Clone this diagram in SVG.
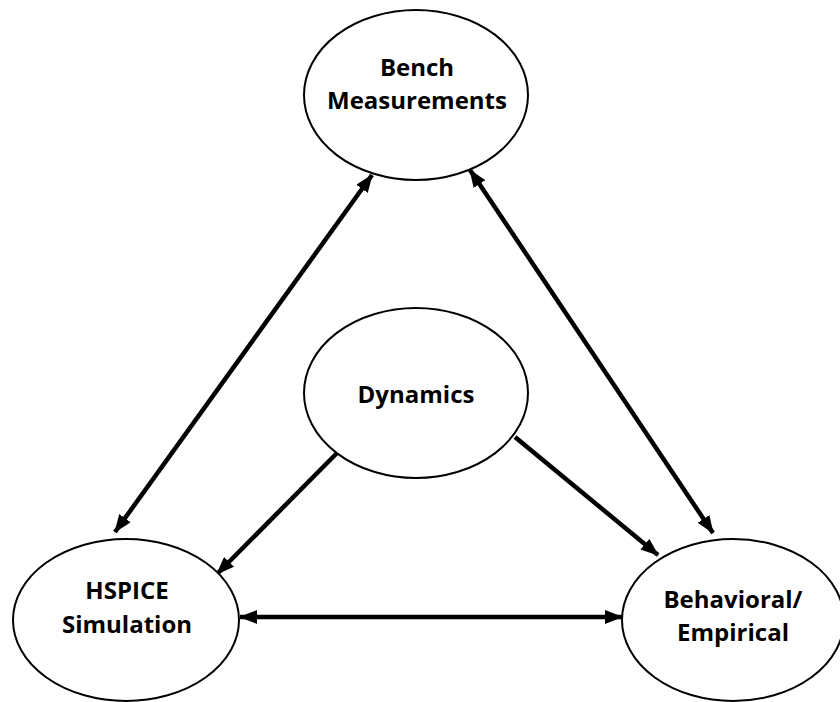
<svg xmlns="http://www.w3.org/2000/svg" width="840" height="702" viewBox="0 0 840 702">
<style>
.node ellipse{fill:#fff;stroke:#000;stroke-width:2}
.node text{font-family:"Open Sans","Liberation Sans",sans-serif;font-weight:bold;font-size:24px;text-anchor:middle;fill:#000}
.conn line{stroke:#000;stroke-width:4.5}
</style>
<defs>
<marker id="ah" markerUnits="userSpaceOnUse" markerWidth="18" markerHeight="14" refX="17" refY="7" orient="auto-start-reverse" viewBox="0 0 18 14">
<path d="M0,0 L18,7 L0,14 Z" fill="#000"/>
</marker>
</defs>
<rect width="840" height="702" fill="#fff"/>
<g id="connectors" class="conn">
<line x1="372" y1="175" x2="115" y2="532" marker-start="url(#ah)" marker-end="url(#ah)"/>
<line x1="470" y1="170" x2="713" y2="533" marker-start="url(#ah)" marker-end="url(#ah)"/>
<line x1="337" y1="453" x2="217" y2="574" marker-end="url(#ah)"/>
<line x1="515" y1="437" x2="658" y2="555" marker-end="url(#ah)"/>
<line x1="240" y1="617" x2="622" y2="617" marker-start="url(#ah)" marker-end="url(#ah)"/>
</g>
<g id="bench" class="node">
<ellipse cx="416" cy="95" rx="112" ry="85"/>
<text x="417" y="76">Bench</text>
<text x="417" y="109">Measurements</text>
</g>
<g id="dynamics" class="node">
<ellipse cx="416" cy="393" rx="112" ry="85"/>
<text x="416" y="403">Dynamics</text>
</g>
<g id="hspice" class="node">
<ellipse cx="126" cy="620" rx="113" ry="81"/>
<text x="127" y="599">HSPICE</text>
<text x="127" y="633">Simulation</text>
</g>
<g id="behavioral" class="node">
<ellipse cx="733" cy="620" rx="111" ry="81"/>
<text x="733" y="608">Behavioral/</text>
<text x="733" y="641">Empirical</text>
</g>
</svg>
